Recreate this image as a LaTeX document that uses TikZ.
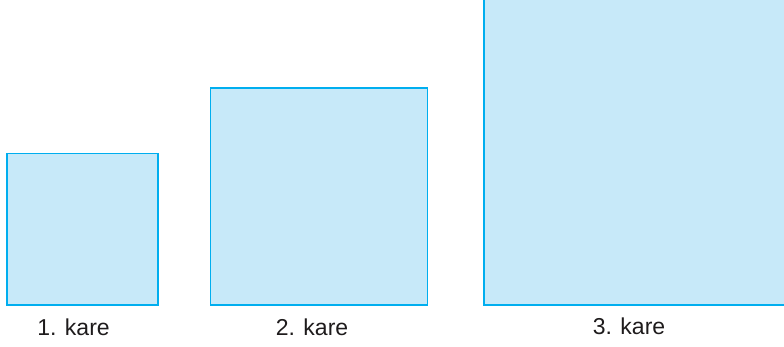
\documentclass[tikz,border=0pt]{standalone}
\usepackage{fontspec}
\setmainfont{Liberation Sans}
\definecolor{sqfill}{HTML}{C7E9F9}
\definecolor{sqline}{HTML}{00AEEF}
\definecolor{txt}{HTML}{1E1B1C}
\begin{document}
\begin{tikzpicture}[x=1pt,y=-1pt,
  sq/.style={draw=sqline,fill=sqfill,line width=1.4pt},
  lbl/.style={text=txt,font=\fontsize{23}{27}\selectfont,anchor=base,inner sep=0pt}]
\useasboundingbox (0,0) rectangle (784,347);
\clip (0,0) rectangle (784,347);
\path[sq] (7,153.5) rectangle (158,305);
\path[sq] (210.7,88) rectangle (427.7,305);
\path[sq,line width=2pt] (484,-10) rectangle (800,304.5);
\node[lbl] (l1) at (73.5,335) {1. kare};
\node[lbl] (l2) at (312,335) {2. kare};
\node[lbl] (l3) at (629,334) {3. kare};
\end{tikzpicture}
\end{document}
